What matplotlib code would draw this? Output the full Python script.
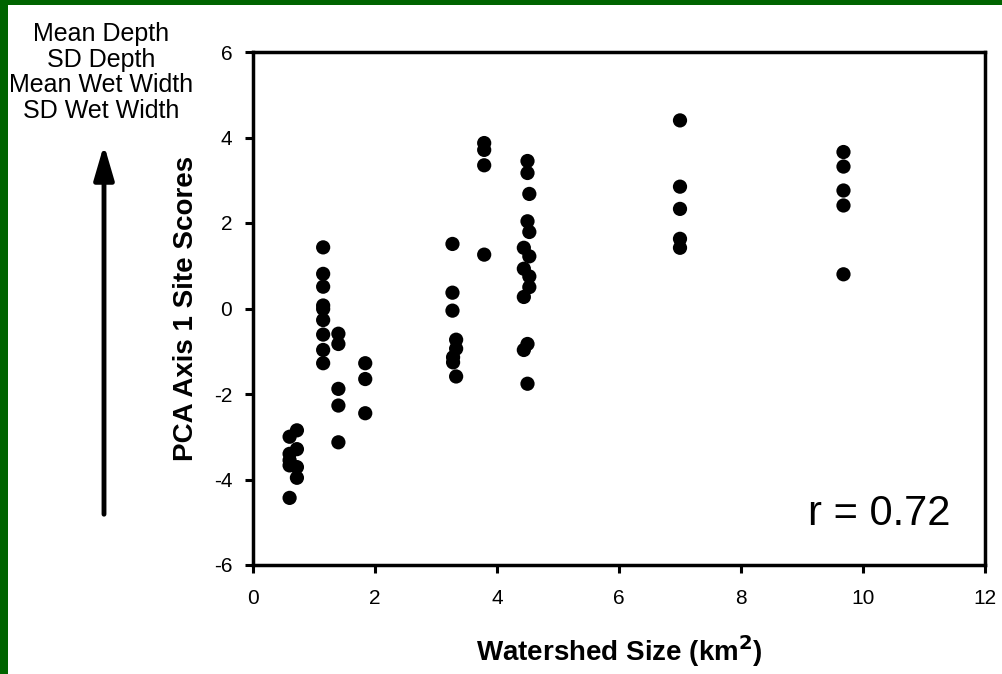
import matplotlib
matplotlib.use("Agg")
import matplotlib.pyplot as plt
from matplotlib.patches import Rectangle, FancyArrowPatch

plt.rcParams['font.family'] = ['Liberation Sans', 'DejaVu Sans']

# Data: watershed size (km^2) and PCA axis-1 site scores
x_a = [0.6, 0.6, 0.6, 0.6, 0.6]
y_a = [-3.0, -3.4, -3.55, -3.67, -4.43]
x_b = [0.72, 0.72, 0.72, 0.72]
y_b = [-2.85, -3.29, -3.71, -3.96]
x_c = [1.15] * 9
y_c = [1.43, 0.81, 0.51, 0.07, -0.01, -0.27, -0.61, -0.97, -1.28]
x_d = [1.40] * 5
y_d = [-0.59, -0.83, -1.88, -2.27, -3.13]
x_e = [1.84] * 3
y_e = [-1.28, -1.65, -2.45]
x_f = [3.27, 3.27, 3.27, 3.33, 3.33, 3.28, 3.28, 3.33]
y_f = [1.51, 0.37, -0.05, -0.73, -0.94, -1.14, -1.26, -1.59]
x_g = [3.79] * 4
y_g = [3.87, 3.71, 3.35, 1.26]
x_h = [4.50, 4.50, 4.53, 4.50, 4.53, 4.44, 4.53, 4.44, 4.53, 4.53, 4.44, 4.50, 4.44, 4.50]
y_h = [3.45, 3.17, 2.68, 2.04, 1.79, 1.42, 1.22, 0.93, 0.75, 0.50, 0.27, -0.83, -0.97, -1.76]
x_i = [7.0] * 5
y_i = [4.40, 2.85, 2.33, 1.63, 1.42]
x_j = [9.68] * 5
y_j = [3.66, 3.32, 2.76, 2.41, 0.80]

xs = x_a + x_b + x_c + x_d + x_e + x_f + x_g + x_h + x_i + x_j
ys = y_a + y_b + y_c + y_d + y_e + y_f + y_g + y_h + y_i + y_j

x_ticks = [0, 2, 4, 6, 8, 10, 12]
y_ticks = [-6, -4, -2, 0, 2, 4, 6]
annotation_lines = ["Mean Depth", "SD Depth", "Mean Wet Width", "SD Wet Width"]

W, H = 1002, 674
fig = plt.figure(figsize=(W / 100, H / 100), dpi=100)
fig.patch.set_facecolor('white')

# green frame
green = '#006400'
fig.patches.append(Rectangle((0, 0), 8 / W, 1, transform=fig.transFigure,
                             facecolor=green, edgecolor='none', zorder=0))
fig.patches.append(Rectangle((0, 1 - 5 / H), 1, 5 / H, transform=fig.transFigure,
                             facecolor=green, edgecolor='none', zorder=0))

ax = fig.add_axes([253 / W, 1 - 565 / H, (985 - 253) / W, (565 - 52) / H])
ax.scatter(xs, ys, s=105, color='black', edgecolors='none', zorder=3, clip_on=False)

ax.set_xlim(0, 12)
ax.set_ylim(-6, 6)
ax.set_xticks(x_ticks)
ax.set_yticks(y_ticks)
ax.set_xticklabels([str(t) for t in x_ticks], fontsize=15)
ax.set_yticklabels([str(t) for t in y_ticks], fontsize=15)
for s in ax.spines.values():
    s.set_linewidth(2.5)
ax.tick_params(direction='out', length=6, width=2.2)
ax.tick_params(axis='y', pad=9)
ax.tick_params(axis='x', pad=11)

ax.set_xlabel('Watershed Size (km$^{\\mathbf{2}}$)', fontsize=20, fontweight='bold')
ax.xaxis.set_label_coords((619 - 253) / (985 - 253), -(633 - 565) / (565 - 52))
ax.set_ylabel('PCA Axis 1 Site Scores', fontsize=20, fontweight='bold')
ax.yaxis.set_label_coords(-(253 - 199) / (985 - 253), (565 - 308) / (565 - 52))

ax.text(808 / W, 1 - 514 / H, 'r = 0.72', transform=fig.transFigure,
        fontsize=30, ha='left', va='center')

fig.text(101 / W, 1 - 22 / H, "\n".join(annotation_lines), ha='center', va='top',
         fontsize=18, linespacing=1.08)

arrow = FancyArrowPatch((104 / W, 1 - 517 / H), (104 / W, 1 - 142 / H),
                        transform=fig.transFigure, arrowstyle='-|>,head_length=13,head_width=3.8',
                        mutation_scale=1.6, linewidth=3.5, color='black')
fig.patches.append(arrow)

fig.savefig('out.png', dpi=100, facecolor='white')
